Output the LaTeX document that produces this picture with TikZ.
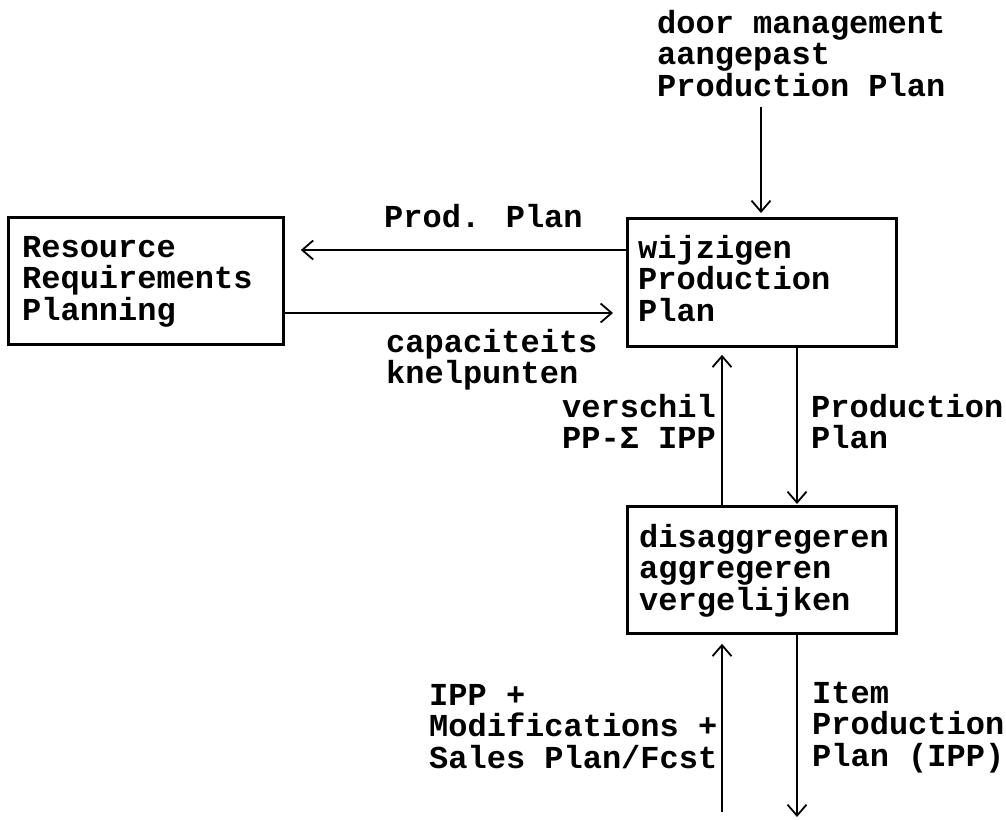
\documentclass[tikz,border=0pt]{standalone}
\usepackage{fontspec}
\newfontfamily\courfont{Liberation Mono}
\usetikzlibrary{arrows.meta,calc}
\begin{document}
\begin{tikzpicture}[x=1pt,y=-1pt,
  box/.style={draw,line width=2.8pt,rectangle,inner sep=0pt,anchor=north west},
  % multi-line texts are placed by the baseline of their last line
  txt/.style={anchor=base west,inner sep=0pt,align=left,
    font=\courfont\bfseries\fontsize{32}{31.6}\selectfont},
  flow/.style={line width=2.4pt,
    -{Straight Barb[length=11pt,width=19pt,line width=1.8pt]}}]
\useasboundingbox (0,0) rectangle (1006,819);

% boxes
\node[box,minimum width=275pt,minimum height=127pt] (rrp) at (7,216) {};
\node[box,minimum width=269pt,minimum height=128pt] (wpp) at (626,217) {};
\node[box,minimum width=269pt,minimum height=127pt] (dis) at (626,505) {};

% box texts
\node[txt] (rrpT) at (22,320.2) {Resource\\Requirements\\Planning};
\node[txt] (wppT) at (638,321.2) {wijzigen\\Production\\Plan};
\node[txt] (disT) at (639,610.2) {disaggregeren\\aggregeren\\vergelijken};

% flow labels
\node[txt] (mgmt) at (657,96.2) {door management\\aangepast\\Production Plan};
\node[txt] (pp1) at (384,227) {Prod. Plan};
\node[txt] (cap) at (386,383.6) {capaciteits\\knelpunten};
\node[txt] (ver) at (562,448.6) {verschil\\PP-Σ IPP};
\node[txt] (pp2) at (811,448.6) {Production\\Plan};
\node[txt] (ipp) at (429,768.2) {IPP +\\Modifications +\\Sales Plan/Fcst};
\node[txt] (item) at (812,766.2) {Item\\Production\\Plan (IPP)};

% free ends
\coordinate (mgmtEnd) at (761,107);
\coordinate (ippStart) at (722,812);
\coordinate (itemEnd) at (797,817);

% connectors
\draw[flow] (mgmtEnd) -- ($(wpp.north west)+(135,-4)$);
\draw[flow] ($(wpp.north west)+(0,33)$) -- ($(rrp.north east)+(16,34)$);
\draw[flow] ($(rrp.north east)+(0,97)$) -- ($(wpp.north west)+(-13,96)$);
\draw[flow] ($(dis.north west)+(96,0)$) -- ($(wpp.south west)+(96,7)$);
\draw[flow] ($(wpp.south west)+(171,0)$) -- ($(dis.north west)+(171,-1)$);
\draw[flow] (ippStart) -- ($(dis.south west)+(96,9)$);
\draw[flow] ($(dis.south west)+(171,0)$) -- (itemEnd);
\end{tikzpicture}
\end{document}
